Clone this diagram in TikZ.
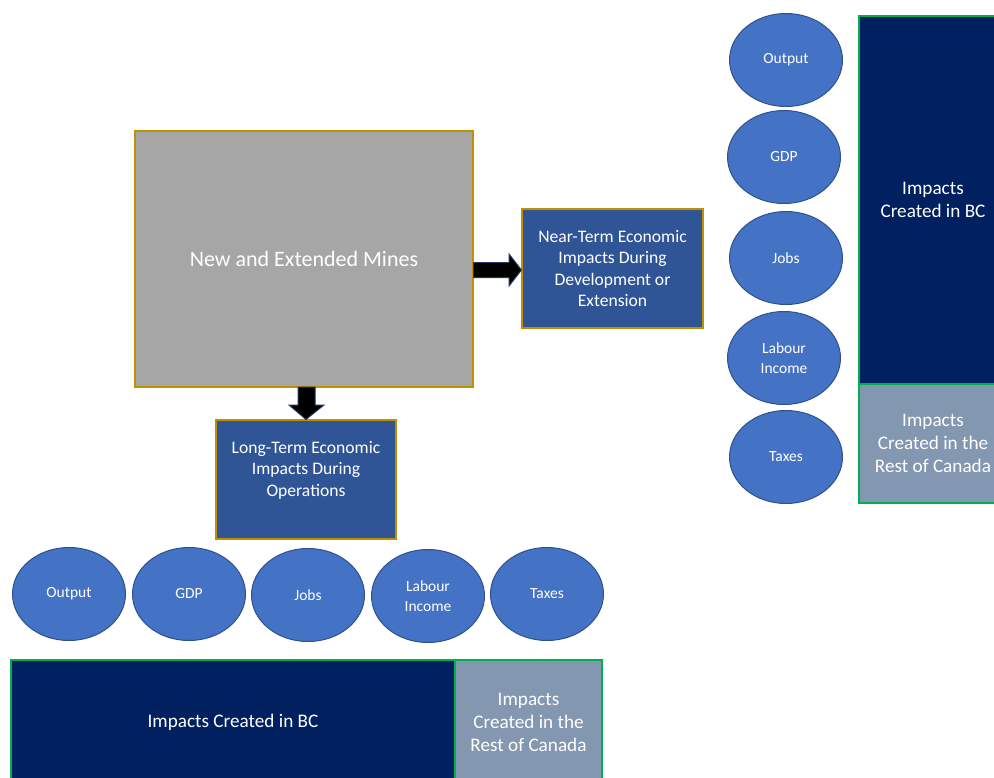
\documentclass[tikz,border=0pt]{standalone}
\usepackage{fontspec}
\setmainfont{Carlito}
\usetikzlibrary{shapes.geometric}
\definecolor{gold}{HTML}{BF9000}
\definecolor{midblue}{HTML}{2F5597}
\definecolor{ellfill}{HTML}{4472C4}
\definecolor{elldraw}{HTML}{2F528F}
\definecolor{navy}{HTML}{002060}
\definecolor{greyblue}{HTML}{8497B0}
\definecolor{grn}{HTML}{00B050}
\definecolor{arrowedge}{HTML}{203864}
\tikzset{
  box/.style={draw=gold, line width=1.2pt, inner sep=0pt, text=white, align=center},
  boxtext/.style={font=\fontsize{17.6}{21.5}\selectfont, text=white, align=center},
  ell/.style={ellipse, draw=elldraw, fill=ellfill, line width=1pt, inner sep=0pt,
    minimum width=113pt, minimum height=93pt, text=white, align=center,
    font=\fontsize{15.5}{20}\selectfont},
  regbox/.style={draw=grn, line width=1.2pt, inner sep=0pt, text=white, align=center,
    font=\fontsize{19.2}{23}\selectfont},
  blockarrow/.style={fill=black, draw=arrowedge, line width=1pt, line join=miter}
}
\begin{document}
\begin{tikzpicture}[x=1pt,y=-1pt]
\useasboundingbox (0,0) rectangle (994,777);
\clip (0,0) rectangle (994,777);
\fill[white] (0,0) rectangle (994,777);
% main boxes
\node[box, fill={rgb,255:red,166;green,166;blue,166}, minimum width=338pt, minimum height=256pt,
  font=\fontsize{22}{26}\selectfont] (mines) at (304,259) {New and Extended Mines};
\node[box, boxtext, fill=midblue, minimum width=181pt, minimum height=119pt] (near) at (612.5,268.5)
  {Near-Term Economic\\Impacts During\\Development or\\Extension};
\node[box, fill=midblue, minimum width=180pt, minimum height=119pt,
  label={[boxtext, yshift=9.5pt]center:Long-Term Economic\\Impacts During\\Operations}] (long) at (306,479.5) {};
% block arrows
\draw[blockarrow] (mines.east |- 0,262.5) -- (509,262.5) -- (509,254) -- (near.west |- 0,270)
  -- (509,286) -- (509,277.5) -- (mines.east |- 0,277.5) -- cycle;
\draw[blockarrow] (298,387) -- (298,405) -- (289,405) -- (long.north) -- (324,405) -- (315,405) -- (315,387) -- cycle;
% right column
\node[ell] (rout) at (786,60) {Output};
\node[ell] (rgdp) at (784,157) {GDP};
\node[ell] (rjobs) at (786,258) {Jobs};
\node[ell] (rlab) at (784,358) {Labour\\Income};
\node[ell] (rtax) at (786,457) {Taxes};
\node[regbox, fill=navy, minimum width=148pt, minimum height=368pt] (rbc) at (933,200) {Impacts\\Created in BC};
\node[regbox, fill=greyblue, minimum width=148pt, minimum height=119pt] (rrest) at (933,443.5) {Impacts\\Created in the\\Rest of Canada};
% bottom row
\node[ell] (bout) at (69,594) {Output};
\node[ell] (bgdp) at (189,594) {GDP};
\node[ell] (bjobs) at (308,595) {Jobs};
\node[ell] (blab) at (428,596) {Labour\\Income};
\node[ell] (btax) at (547,594) {Taxes};
\node[regbox, fill=navy, minimum width=444pt, minimum height=124pt] (bbc) at (233,722) {Impacts Created in BC};
\node[regbox, fill=greyblue, minimum width=147pt, minimum height=124pt] (brest) at (528.5,722) {Impacts\\Created in the\\Rest of Canada};
\end{tikzpicture}
\end{document}
